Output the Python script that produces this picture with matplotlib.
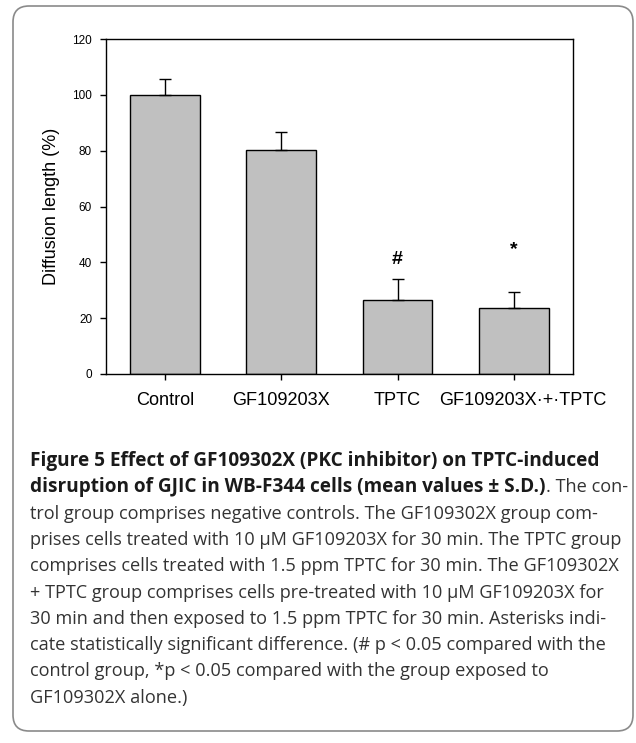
import matplotlib
matplotlib.use("Agg")
import matplotlib.pyplot as plt
import matplotlib.transforms as mtransforms
from matplotlib.patches import FancyBboxPatch

# 数据
groups = ["Control", "GF109203X", "TPTC", "GF109203X·+·TPTC"]
means = [100.0, 80.4, 26.6, 23.6]
sd = [5.5, 6.3, 7.5, 5.8]
marks = ["", "", "#", "*"]
mark_y = [0, 0, 41.0, 44.5]

caption_lines = [
    [("Figure 5 Effect of GF109302X (PKC inhibitor) on TPTC-induced", "bold")],
    [("disruption of GJIC in WB-F344 cells (mean values ± S.D.)", "bold"),
     (". The con-", "normal")],
    [("trol group comprises negative controls. The GF109302X group com-", "normal")],
    [("prises cells treated with 10 µM GF109203X for 30 min. The TPTC group", "normal")],
    [("comprises cells treated with 1.5 ppm TPTC for 30 min. The GF109302X", "normal")],
    [("+ TPTC group comprises cells pre-treated with 10 µM GF109203X for", "normal")],
    [("30 min and then exposed to 1.5 ppm TPTC for 30 min. Asterisks indi-", "normal")],
    [("cate statistically significant difference. (# p < 0.05 compared with the", "normal")],
    [("control group, *p < 0.05 compared with the group exposed to", "normal")],
    [("GF109302X alone.)", "normal")],
]

W, H = 636, 743
fig = plt.figure(figsize=(W / 100, H / 100), dpi=100)

# 背景层：圆角边框和图注
bg = fig.add_axes([0, 0, 1, 1], zorder=0)
bg.set_xlim(0, W)
bg.set_ylim(H, 0)
bg.axis("off")
box = FancyBboxPatch((13, 6), 620, 725, boxstyle="round,pad=0,rounding_size=16",
                     facecolor="white", edgecolor="#8a8a8a", linewidth=1.2)
bg.add_patch(box)

renderer = fig.canvas.get_renderer()
cap_font = ["Open Sans", "DejaVu Sans"]
x0 = 30
base0 = 466
step = 26.3
for i, parts in enumerate(caption_lines):
    x = x0
    y = base0 + i * step
    for txt, wt in parts:
        t = bg.text(x, y, txt, fontsize=13.7 if wt == "bold" else 13.05,
                    fontweight=wt, family=cap_font,
                    color="#1a1a1a" if wt == "bold" else "#333333",
                    ha="left", va="baseline")
        bb = t.get_window_extent(renderer=renderer)
        x = bg.transData.inverted().transform((bb.x1, bb.y0))[0]

# 柱状图
ax = fig.add_axes([106 / W, (H - 374) / H, 467 / W, 335 / H], zorder=1)
pos = list(range(len(groups)))
ax.bar(pos, means, width=0.6, color="#c0c0c0", edgecolor="black", linewidth=1.0, zorder=2)
ax.errorbar(pos, means, yerr=[[0] * len(sd), sd], fmt="none", ecolor="black",
            elinewidth=1.0, capsize=4, capthick=1.0, zorder=3)
for p, m, my in zip(pos, marks, mark_y):
    if m:
        ax.text(p, my, m, ha="center", va="center", fontsize=14,
                fontweight="bold", family="Liberation Sans")

ax.set_xlim(-0.507, 3.508)
ax.set_ylim(0, 120)
ax.set_yticks(range(0, 121, 20))
ax.set_xticks(pos)
ax.set_xticklabels(groups, family="Liberation Sans", fontsize=13.1)
for lab in ax.get_yticklabels():
    lab.set_family("Liberation Sans")
    lab.set_fontsize(8.5)
ax.tick_params(axis="y", direction="out", length=4, width=1, pad=6)
ax.tick_params(axis="x", direction="out", length=4, width=1, pad=9)
# 最后一个标签略微右移（放在 tick_params 之后，否则会被重置）
last = ax.xaxis.get_major_ticks()[-1].label1
last.set_transform(last.get_transform() + mtransforms.ScaledTranslation(9 / 100, 0, fig.dpi_scale_trans))
for s in ax.spines.values():
    s.set_linewidth(1.0)
ax.set_ylabel("Diffusion length (%)", family="Liberation Sans", fontsize=13)
ax.yaxis.set_label_coords(-0.098, 0.5)

fig.savefig("out.png", dpi=100)
